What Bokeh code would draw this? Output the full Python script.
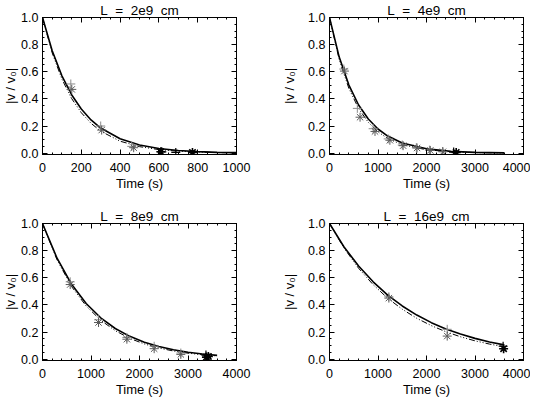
from bokeh.plotting import figure
from bokeh.layouts import column, row
from bokeh.models import LinearAxis, SingleIntervalTicker, Range1d, CustomJSTickFormatter
from bokeh.embed import file_html
from bokeh.resources import INLINE

# ---------------- data ----------------
S = "\u00a0\u00a0"
titles = ["L" + S + "=" + S + "2e9" + S + "cm", "L" + S + "=" + S + "4e9" + S + "cm",
          "L" + S + "=" + S + "8e9" + S + "cm", "L" + S + "=" + S + "16e9" + S + "cm"]
y_label = "|v\u00a0/\u00a0v\u2080|"
x_label = "Time (s)"
x_max = [1000, 4000, 4000, 4000]
x_step = [200, 1000, 1000, 1000]

# model curves (solid = model A, dash-dot = model B)
t1 = [0, 50, 100, 150, 200, 250, 300, 400, 500, 600, 700, 800, 900, 1000]
solid1 = [1.0, 0.755, 0.570, 0.431, 0.325, 0.245, 0.185, 0.106, 0.060, 0.034, 0.020, 0.011, 0.006, 0.004]
dash1 = [1.0, 0.739, 0.546, 0.403, 0.298, 0.220, 0.162, 0.088, 0.048, 0.026, 0.014, 0.008, 0.004, 0.002]

t2 = [0, 200, 400, 600, 800, 1000, 1200, 1500, 2000, 2500, 3000, 3600]
solid2 = [1.0, 0.708, 0.502, 0.355, 0.252, 0.178, 0.126, 0.075, 0.032, 0.013, 0.006, 0.002]
dash2 = [1.0, 0.690, 0.477, 0.329, 0.227, 0.157, 0.108, 0.062, 0.025, 0.010, 0.004, 0.001]

t3 = [0, 300, 600, 900, 1200, 1500, 1800, 2100, 2400, 2700, 3000, 3300, 3600]
solid3 = [1.0, 0.744, 0.552, 0.410, 0.305, 0.226, 0.168, 0.125, 0.093, 0.069, 0.051, 0.038, 0.028]
dash3 = [1.0, 0.732, 0.535, 0.392, 0.287, 0.210, 0.153, 0.112, 0.082, 0.060, 0.044, 0.032, 0.024]

t4 = [0, 300, 600, 900, 1200, 1500, 1800, 2100, 2400, 2700, 3000, 3300, 3600]
solid4 = [1.0, 0.827, 0.687, 0.570, 0.472, 0.392, 0.325, 0.269, 0.223, 0.185, 0.153, 0.127, 0.105]
dash4 = [1.0, 0.819, 0.670, 0.549, 0.449, 0.368, 0.301, 0.247, 0.202, 0.165, 0.135, 0.111, 0.091]

# measured points (asterisks and plus signs), early and late samples
star_t1 = [151, 305, 470]; star_v1 = [0.47, 0.17, 0.04]
plus_t1 = [146, 300, 460]; plus_v1 = [0.51, 0.20, 0.05]
late_star_t1 = [610, 773]; late_star_v1 = [0.010, 0.005]
late_plus_t1 = [615, 687]; late_plus_v1 = [0.010, 0.005]

star_t2 = [308, 630, 938, 1245, 1518, 1805, 2078, 2340]
star_v2 = [0.605, 0.265, 0.16, 0.095, 0.055, 0.038, 0.02, 0.01]
plus_t2 = [295, 574, 900, 1210, 1500, 1790, 2060, 2330]
plus_v2 = [0.62, 0.33, 0.18, 0.105, 0.06, 0.04, 0.022, 0.012]
late_star_t2 = [2612]; late_star_v2 = [0.005]
late_plus_t2 = [2560]; late_plus_v2 = [0.008]

star_t3 = [571, 1155, 1740, 2302, 2852]
star_v3 = [0.55, 0.27, 0.147, 0.077, 0.035]
plus_t3 = [571, 1155, 1740, 2302, 2852]
plus_v3 = [0.57, 0.29, 0.16, 0.095, 0.045]
late_star_t3 = [3380, 3420]; late_star_v3 = [0.015, 0.02]
late_plus_t3 = [3370]; late_plus_v3 = [0.03]

star_t4 = [1224, 2427]; star_v4 = [0.45, 0.17]
plus_t4 = [1224, 2427]; plus_v4 = [0.46, 0.22]
late_star_t4 = [3590]; late_star_v4 = [0.077]
late_plus_t4 = [3580]; late_plus_v4 = [0.095]

curves = [(t1, solid1, dash1), (t2, solid2, dash2), (t3, solid3, dash3), (t4, solid4, dash4)]
points = [
    (star_t1, star_v1, plus_t1, plus_v1, late_star_t1, late_star_v1, late_plus_t1, late_plus_v1),
    (star_t2, star_v2, plus_t2, plus_v2, late_star_t2, late_star_v2, late_plus_t2, late_plus_v2),
    (star_t3, star_v3, plus_t3, plus_v3, late_star_t3, late_star_v3, late_plus_t3, late_plus_v3),
    (star_t4, star_v4, plus_t4, plus_v4, late_star_t4, late_star_v4, late_plus_t4, late_plus_v4),
]

FONT = "Liberation Sans"
FW, FH = 194, 137


def blank_axis(ticker):
    ax = LinearAxis(ticker=ticker, formatter=CustomJSTickFormatter(code="return ''"))
    ax.major_label_text_font_size = "0px"
    ax.major_label_standoff = 0
    ax.major_tick_in = 5
    ax.major_tick_out = 0
    ax.minor_tick_in = 2
    ax.minor_tick_out = 0
    ax.axis_line_color = "black"
    ax.major_tick_line_color = "black"
    ax.minor_tick_line_color = "black"
    return ax


def make_panel(i, bl, br, bt, bb, ylab_standoff):
    xmax = x_max[i]
    p = figure(frame_width=FW, frame_height=FH,
               x_range=Range1d(0, xmax), y_range=Range1d(-0.01, 1.0),
               output_backend="svg", toolbar_location=None,
               min_border_left=bl, min_border_right=br,
               min_border_top=bt, min_border_bottom=bb)
    p.background_fill_color = "white"
    p.border_fill_color = "white"
    p.outline_line_color = "black"
    p.xgrid.visible = False
    p.ygrid.visible = False

    p.title.text = titles[i]
    p.title.align = "center"
    p.title.text_font = FONT
    p.title.text_font_size = "13.5px"
    p.title.text_font_style = "normal"
    p.title.text_color = "black"
    p.title.standoff = 0

    xminor = 4 if x_step[i] == 200 else 5
    xt = SingleIntervalTicker(interval=x_step[i], num_minor_ticks=xminor)
    yt = SingleIntervalTicker(interval=0.2, num_minor_ticks=4)
    p.xaxis.ticker = xt
    p.yaxis.ticker = yt
    for ax in (p.xaxis[0], p.yaxis[0]):
        ax.major_tick_in = 5
        ax.major_tick_out = 0
        ax.minor_tick_in = 2
        ax.minor_tick_out = 0
        ax.axis_line_color = "black"
        ax.major_tick_line_color = "black"
        ax.minor_tick_line_color = "black"
        ax.major_label_text_font = FONT
        ax.major_label_text_font_size = "12.5px"
        ax.major_label_text_color = "black"
        ax.axis_label_text_font = FONT
        ax.axis_label_text_font_size = "13px"
        ax.axis_label_text_font_style = "normal"
        ax.axis_label_text_color = "black"
    p.xaxis[0].axis_label = x_label
    p.xaxis[0].major_label_standoff = 8
    p.xaxis[0].axis_label_standoff = 1
    p.yaxis[0].axis_label = y_label
    p.yaxis[0].major_label_standoff = 4
    p.yaxis[0].axis_label_standoff = ylab_standoff
    p.xaxis[0].formatter = CustomJSTickFormatter(code="return tick.toFixed(0)")
    p.yaxis[0].formatter = CustomJSTickFormatter(code="return tick.toFixed(1)")

    p.add_layout(blank_axis(SingleIntervalTicker(interval=x_step[i], num_minor_ticks=xminor)), "above")
    p.add_layout(blank_axis(SingleIntervalTicker(interval=0.2, num_minor_ticks=4)), "right")

    t, vs, vd = curves[i]
    p.line(t, vs, line_color="black", line_width=1.6)
    p.line(t, vd, line_color="black", line_width=1.0, line_dash="6 2 1 2 1 2 1 2")

    st, sv, pt, pv, lst, lsv, lpt, lpv = points[i]
    p.scatter(pt, pv, marker="cross", size=9, line_color="#8c8c8c", line_width=1)
    p.scatter(st, sv, marker="asterisk", size=9, line_color="#5a5a5a", line_width=1)
    p.scatter(lpt, lpv, marker="cross", size=9, line_color="black", line_width=1.2)
    p.scatter(lst, lsv, marker="asterisk", size=9, line_color="black", line_width=1.6)
    return p


p1 = make_panel(0, 41, 43, 17, 52, 0)
p2 = make_panel(1, 48, 7, 17, 52, 8)
p3 = make_panel(2, 41, 43, 17, 30, 0)
p4 = make_panel(3, 48, 7, 17, 30, 8)

layout = column(row(p1, p2), row(p3, p4))

open("out.html", "w").write(file_html(layout, INLINE))
